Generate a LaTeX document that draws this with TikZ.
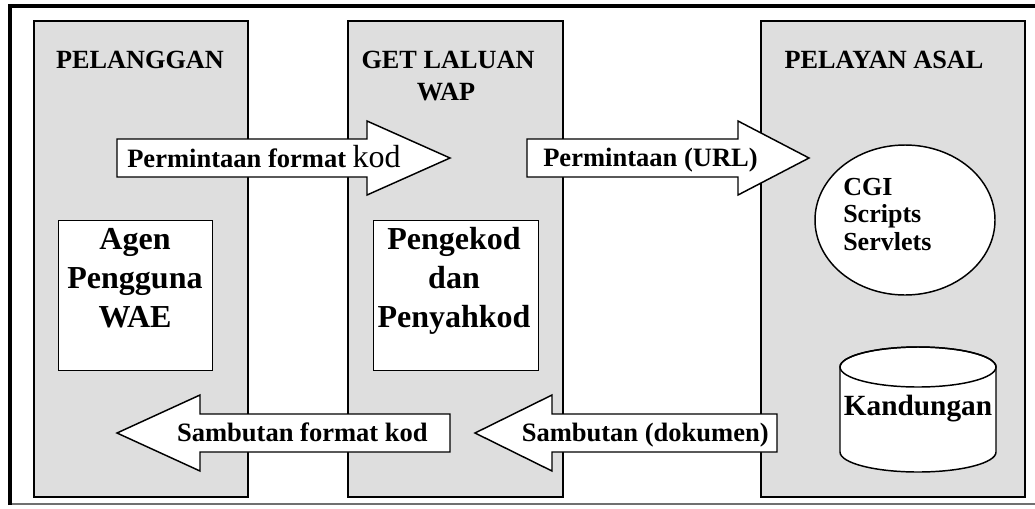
\documentclass[tikz,border=0pt]{standalone}
\usepackage{fontspec}
\setmainfont{Liberation Serif}
\usetikzlibrary{shapes.geometric}
\definecolor{panelgrey}{HTML}{DEDEDE}
\definecolor{framegrey}{HTML}{707070}
\tikzset{
  panel/.style={draw=black,line width=1.2pt,fill=panelgrey,anchor=north west,inner sep=0pt},
  blockarrow/.style={draw=black,line width=1.1pt,fill=white,line join=miter},
  innerbox/.style={draw=black,line width=1.1pt,fill=white},
  titletext/.style={font=\fontsize{19.7}{24}\selectfont\bfseries,inner sep=0pt,anchor=base},
  arrowtext/.style={font=\fontsize{19.9}{24}\selectfont\bfseries,inner sep=0pt},
  bigtext/.style={font=\fontsize{24}{29}\selectfont\bfseries,inner sep=0pt,anchor=base},
  smalltext/.style={font=\fontsize{19.5}{21}\selectfont\bfseries,inner sep=0pt,anchor=base west},
}
\begin{document}
\begin{tikzpicture}[x=0.75pt,y=-0.75pt]
\useasboundingbox (0,0) rectangle (1035,508);
% outer frame
\draw[framegrey,line width=1.6pt] (10,504) -- (1035,504);
\draw[black,line width=2.6pt] (10,505) -- (10,6) -- (1035,6);
% panels
\node[panel,minimum width=214*0.75pt,minimum height=476*0.75pt] (client) at (33,20) {};
\node[panel,minimum width=215*0.75pt,minimum height=476*0.75pt] (gateway) at (347,20) {};
\node[panel,minimum width=264*0.75pt,minimum height=476*0.75pt] (server) at (760,20) {};
% titles
\node[titletext] (tclient) at (140,68) {PELANGGAN};
\node[titletext] (tgateway1) at (448,68) {GET LALUAN};
\node[titletext] (tgateway2) at (446,100) {WAP};
\node[titletext] (tserver) at (884,68) {PELAYAN ASAL};
% inner boxes
\node[innerbox,minimum width=154*0.75pt,minimum height=150*0.75pt,anchor=north west,inner sep=0pt] (agent) at (58,220) {};
\node[bigtext] (agent1) at (135,249) {Agen};
\node[bigtext] (agent2) at (135,288) {Pengguna};
\node[bigtext] (agent3) at (135,327) {WAE};
\node[innerbox,minimum width=165*0.75pt,minimum height=150*0.75pt,anchor=north west,inner sep=0pt] (codec) at (373,220) {};
\node[bigtext] (codec1) at (454,249) {Pengekod};
\node[bigtext] (codec2) at (454,288) {dan};
\node[bigtext] (codec3) at (454,327) {Penyahkod};
% ellipse
\node[draw=black,line width=1.1pt,fill=white,ellipse,minimum width=180*0.75pt,minimum height=150*0.75pt,inner sep=0pt] (cgi) at (905,220) {};
\node[smalltext] (cgi1) at (843,195) {CGI};
\node[smalltext] (cgi2) at (843,222.5) {Scripts};
\node[smalltext] (cgi3) at (843,250) {Servlets};
% cylinder
\draw[innerbox] (840,367) -- (840,452) arc[start angle=180,end angle=360,x radius=58.5pt,y radius=15pt] -- (996,367) arc[start angle=0,end angle=180,x radius=58.5pt,y radius=15pt] -- cycle;
\draw[black,line width=1.1pt] (918,367) ellipse[x radius=58.5pt,y radius=15pt];
\node[font=\fontsize{22}{26}\selectfont\bfseries,inner sep=0pt,anchor=base] (content) at (918,415) {Kandungan};
% arrows
\draw[blockarrow] (117,139) -- (367,139) -- (367,121) -- (450,158) -- (367,195) -- (367,177) -- (117,177) -- cycle;
\node[arrowtext,anchor=base west] (req1) at (127,167) {Permintaan format \fontsize{24}{26}\selectfont\mdseries kod};
\draw[blockarrow] (527,139) -- (738,139) -- (738,121) -- (809,158) -- (738,195) -- (738,177) -- (527,177) -- cycle;
\node[arrowtext,anchor=base west] (req2) at (543,166) {Permintaan (URL)};
\draw[blockarrow] (450,414) -- (200,414) -- (200,395) -- (117,433) -- (200,471) -- (200,452) -- (450,452) -- cycle;
\node[arrowtext,anchor=base east] (resp1) at (428,441) {Sambutan format kod};
\draw[blockarrow] (777,414) -- (552,414) -- (552,395) -- (475,433) -- (552,471) -- (552,452) -- (777,452) -- cycle;
\node[arrowtext,anchor=base east] (resp2) at (769,441) {Sambutan (dokumen)};
\end{tikzpicture}
\end{document}
